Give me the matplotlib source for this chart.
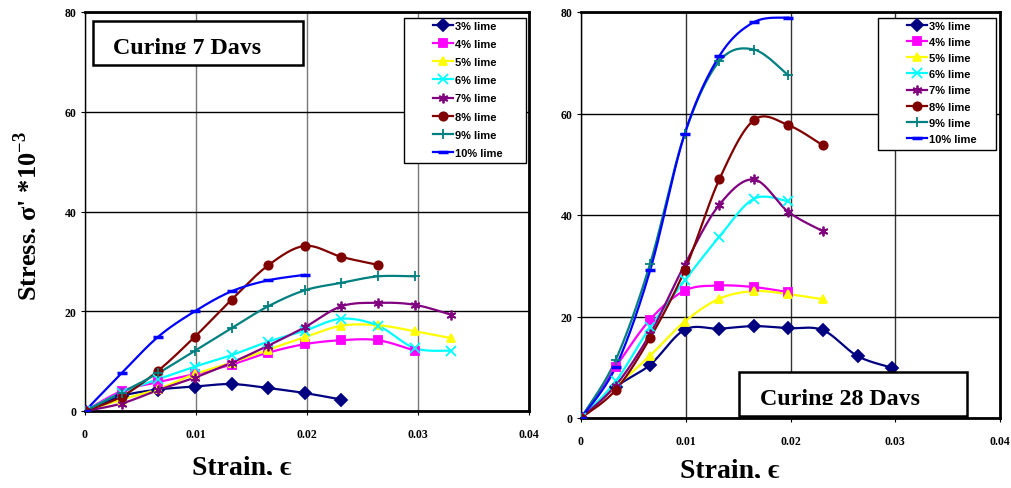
import numpy as np
import matplotlib.pyplot as plt
from matplotlib.patches import Rectangle

W, H = 1011, 489

strain = [0, 0.0033, 0.0066, 0.0099, 0.0132, 0.0165, 0.0198, 0.0231, 0.0264, 0.0297, 0.033]
labels = ["3% lime", "4% lime", "5% lime", "6% lime", "7% lime", "8% lime", "9% lime", "10% lime"]
colors = ["#000080", "#FF00FF", "#FFFF00", "#00FFFF", "#800080", "#800000", "#008080", "#0000FF"]
markers = ["D", "s", "^", "x", (6, 2, 0), "o", "+", "_"]

# curing 7 days
stress7 = [
    [0, 3.0, 4.3, 4.9, 5.4, 4.6, 3.6, 2.3],
    [0, 4.0, 5.8, 7.4, 9.3, 11.7, 13.4, 14.2, 14.2, 12.1],
    [0, 2.3, 4.4, 7.4, 9.7, 12.3, 14.8, 17.1, 17.2, 16.0, 14.6],
    [0, 3.7, 6.4, 8.9, 11.2, 13.9, 16.1, 18.5, 17.1, 12.6, 12.1],
    [0, 1.5, 4.2, 6.7, 9.7, 13.1, 16.8, 21.0, 21.7, 21.3, 19.3],
    [0, 2.9, 8.1, 14.9, 22.3, 29.2, 33.1, 30.9, 29.3],
    [0, 3.7, 7.6, 12.1, 16.6, 21.0, 24.2, 25.7, 27.0, 27.0],
    [0, 7.6, 14.9, 20.0, 24.0, 26.2, 27.3],
]

# curing 28 days
stress28 = [
    [0, 6.1, 10.5, 17.4, 17.6, 18.1, 17.7, 17.3, 12.2, 9.9],
    [0, 10.0, 19.4, 25.1, 26.1, 25.8, 24.8],
    [0, 6.1, 12.3, 19.0, 23.5, 25.0, 24.4, 23.4],
    [0, 7.2, 17.9, 27.1, 35.7, 43.2, 42.7],
    [0, 6.4, 16.6, 30.2, 42.0, 47.0, 40.6, 36.8],
    [0, 5.5, 15.8, 29.1, 47.0, 58.7, 57.7, 53.7],
    [0, 11.4, 30.4, 56.0, 70.3, 72.6, 67.5],
    [0, 10.0, 29.1, 56.0, 71.3, 78.0, 78.9],
]


def smooth(xs, ys, n=24):
    # excel style smoothed line (catmull-rom)
    P = np.column_stack([xs, ys])
    out = []
    for i in range(len(P) - 1):
        p0 = P[i - 1] if i > 0 else P[i]
        p1, p2 = P[i], P[i + 1]
        p3 = P[i + 2] if i + 2 < len(P) else P[i + 1]
        t = np.linspace(0, 1, n)[:, None]
        c = 0.5 * ((2 * p1) + (-p0 + p2) * t + (2 * p0 - 5 * p1 + 4 * p2 - p3) * t ** 2
                   + (-p0 + 3 * p1 - 3 * p2 + p3) * t ** 3)
        out.append(c)
    c = np.vstack(out)
    return c[:, 0], c[:, 1]


def rect(x0, y0, x1, y1):
    return [x0 / W, 1 - y1 / H, (x1 - x0) / W, (y1 - y0) / H]


def fig_rect(x0, y0, x1, y1, **kw):
    r = Rectangle((x0 / W, 1 - y1 / H), (x1 - x0) / W, (y1 - y0) / H,
                  transform=fig.transFigure, **kw)
    fig.patches.append(r)
    return r


plt.rcParams['font.family'] = ['Liberation Serif', 'DejaVu Serif']
plt.rcParams['mathtext.fontset'] = 'custom'
plt.rcParams['mathtext.rm'] = 'Liberation Serif:bold'
plt.rcParams['mathtext.bf'] = 'Liberation Serif:bold'

fig = plt.figure(figsize=(W / 100, H / 100), dpi=100)
ax1 = fig.add_axes(rect(85, 13, 529, 412))
ax2 = fig.add_axes(rect(581, 13, 1000, 419))


def mk_style(mk):
    ms = 6 if mk not in ("_", "+", "x", (6, 2, 0)) else 7
    mew = 2.5 if mk == "_" else 1.3
    return ms, mew


def draw(ax, data, vgrid):
    handles = []
    for vals, lab, col, mk in zip(data, labels, colors, markers):
        xs = strain[:len(vals)]
        sx, sy = smooth(xs, vals)
        ms, mew = mk_style(mk)
        ax.plot(sx, sy, color=col, lw=1.6, zorder=3)
        ax.plot(xs, vals, ls="none", marker=mk, color=col, ms=ms, mew=mew, zorder=4)
        h, = ax.plot([], [], color=col, lw=1.6, marker=mk, ms=ms, mew=mew, label=lab)
        handles.append(h)
    ax.set_xlim(0, 0.04)
    ax.set_ylim(0, 80)
    ax.set_xticks([0, 0.01, 0.02, 0.03, 0.04])
    ax.set_xticklabels(["0", "0.01", "0.02", "0.03", "0.04"])
    ax.set_yticks([0, 20, 40, 60, 80])
    ax.tick_params(axis="x", direction="out", length=3, pad=9, labelsize=8.5)
    ax.tick_params(axis="y", direction="out", length=3, pad=3, labelsize=8.5)
    for lb in ax.get_xticklabels() + ax.get_yticklabels():
        lb.set_fontweight("bold")
    ax.grid(axis="y", color="black", lw=1.0, zorder=1)
    ax.grid(axis="x", color=vgrid, lw=1.0, zorder=1)
    for s in ax.spines.values():
        s.set_linewidth(2.0)
    ax.spines["left"].set_linewidth(1.0)
    return handles


h1 = draw(ax1, stress7, "#777777")
h2 = draw(ax2, stress28, "#333333")

leg_font = {"family": ["Liberation Sans Narrow", "Liberation Sans"], "weight": "bold", "size": 8}
# legend frames drawn by hand, entries placed inside
for hs, frame, hx, hy, sp in ((h1, (404, 19, 526, 164), 433, 22, 0.73),
                              (h2, (878, 19, 996, 151), 907, 22, 0.55)):
    fig_rect(*frame, fc="white", ec="black", lw=1.0, zorder=8)
    fig.legend(handles=hs, loc="upper left", bbox_to_anchor=(hx / W, 1 - hy / H),
               bbox_transform=fig.transFigure, prop=leg_font, frameon=False,
               handlelength=1.8, handletextpad=0.15, labelspacing=sp,
               borderpad=0, borderaxespad=0).set_zorder(10)


def title_box(box, tx, base, text):
    x0, y0, x1, y1 = box
    fig_rect(x0, y0, x1, y1, fc="white", ec="none", zorder=5)
    fig.text(tx / W, 1 - base / H, text, fontsize=17.3, fontweight="bold",
             va="baseline", ha="left", zorder=6)
    # the original text is cut just under the baseline
    fig_rect(x0 + 1, base + 1, x1 - 1, y1 - 1, fc="white", ec="none", zorder=7)
    fig_rect(x0, y0, x1, y1, fc="none", ec="black", lw=1.8, zorder=8)


title_box((93, 22, 303, 66), 113, 54, "Curing 7 Days")
title_box((739, 373, 967, 417), 760, 405, "Curing 28 Days")

for cx, base in ((242, 475), (730, 478)):
    fig.text(cx / W, 1 - base / H, "Strain, ϵ", fontsize=20, fontweight="bold",
             ha="center", va="baseline", zorder=6)
    fig_rect(cx - 70, base + 1, cx + 70, H, fc="white", ec="none", zorder=7)

fig.text(28 / W, 1 - 216 / H, "Stress. σ' *10$^{\\mathbf{-3}}$", fontsize=19, fontweight="bold",
         rotation=90, ha="center", va="center")

fig.savefig("out.png", dpi=100)
